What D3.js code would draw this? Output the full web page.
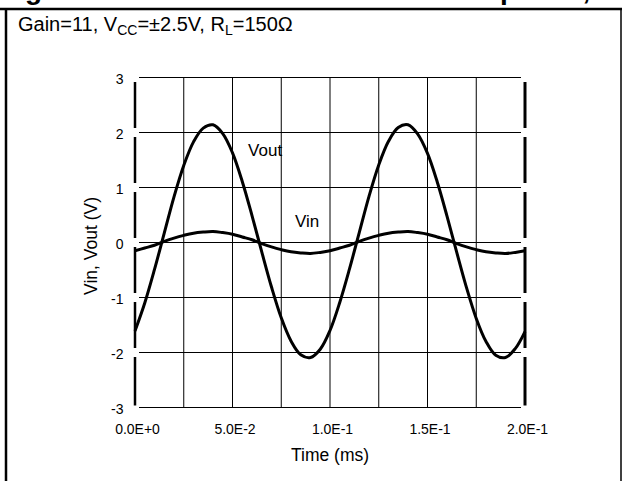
<!DOCTYPE html>
<html lang="en">
<head>
<meta charset="UTF-8">
<title>Vin, Vout vs Time</title>
<script src="https://cdn.jsdelivr.net/npm/d3@7"></script>
<style>
  body { margin: 0; background: #fff; }
  svg { display: block; font-family: 'Liberation Sans', Arial, sans-serif; }
</style>
</head>
<body>
<div id="chart"></div>
<script>
// time in ms, read every 0.005 ms off the scope trace
const time = [0.000, 0.005, 0.010, 0.015, 0.020, 0.025, 0.030, 0.035, 0.040, 0.045,
              0.050, 0.055, 0.060, 0.065, 0.070, 0.075, 0.080, 0.085, 0.090, 0.095,
              0.100, 0.105, 0.110, 0.115, 0.120, 0.125, 0.130, 0.135, 0.140, 0.145,
              0.150, 0.155, 0.160, 0.165, 0.170, 0.175, 0.180, 0.185, 0.190, 0.195, 0.200];
const vout = [-1.61, -1.10, -0.49, 0.17, 0.83, 1.40, 1.83, 2.08, 2.14, 1.98,
              1.63, 1.11, 0.49, -0.17, -0.81, -1.37, -1.79, -2.04, -2.09, -1.94,
              -1.60, -1.09, -0.48, 0.18, 0.84, 1.41, 1.84, 2.09, 2.14, 1.97,
              1.62, 1.10, 0.48, -0.18, -0.82, -1.38, -1.80, -2.05, -2.09, -1.93, -1.62];
const vin = [-0.15, -0.10, -0.05, 0.02, 0.08, 0.13, 0.17, 0.19, 0.20, 0.18,
             0.15, 0.10, 0.05, -0.02, -0.08, -0.13, -0.17, -0.19, -0.20, -0.18,
             -0.15, -0.10, -0.05, 0.02, 0.08, 0.13, 0.17, 0.19, 0.20, 0.18,
             0.15, 0.10, 0.05, -0.02, -0.08, -0.13, -0.17, -0.19, -0.20, -0.18, -0.15];

const yTicks = [-3, -2, -1, 0, 1, 2, 3];
const yTickLabels = ["-3", "-2", "-1", "0", "1", "2", "3"];
const xTicks = [0, 0.05, 0.1, 0.15, 0.2];
const xTickLabels = ["0.0E+0", "5.0E-2", "1.0E-1", "1.5E-1", "2.0E-1"];
const xGrid = [0.025, 0.05, 0.075, 0.1, 0.125, 0.15, 0.175];

const width = 622, height = 481;
const svg = d3.select("#chart").append("svg")
    .attr("width", width)
    .attr("height", height);

const x = d3.scaleLinear().domain([0, 0.2]).range([135, 525]);
const y = d3.scaleLinear().domain([-3, 3]).range([407.5, 77.5]);

// figure heading, cut off by the page top (only descenders show)
svg.append("text")
    .attr("x", 0).attr("y", -1)
    .attr("font-size", 28).attr("font-weight", "bold")
    .text("Figure 16. Vout and Vin Transient Response, High Gain");

// outer box
svg.append("line").attr("x1", 0).attr("x2", width).attr("y1", 9).attr("y2", 9)
    .attr("stroke", "#000").attr("stroke-width", 2.5);
svg.append("line").attr("x1", 6).attr("x2", 6).attr("y1", 9).attr("y2", height)
    .attr("stroke", "#000").attr("stroke-width", 2.5);
svg.append("line").attr("x1", 621).attr("x2", 621).attr("y1", 9).attr("y2", height)
    .attr("stroke", "#000").attr("stroke-width", 1.5);

// conditions line
const cond = svg.append("text").attr("x", 18).attr("y", 31).attr("font-size", 20);
cond.append("tspan").text("Gain=11, V");
cond.append("tspan").attr("font-size", 14).attr("dy", 4).text("CC");
cond.append("tspan").attr("dy", -4).text("=\u00b12.5V, R");
cond.append("tspan").attr("font-size", 14).attr("dy", 4).text("L");
cond.append("tspan").attr("dy", -4).text("=150\u03a9");

// grid
const grid = svg.append("g").attr("stroke", "#000").attr("stroke-width", 1);
grid.selectAll(".h").data(yTicks).join("line")
    .attr("x1", x(0) + 4).attr("x2", x(0.2) - 4)
    .attr("y1", d => y(d)).attr("y2", d => y(d));
grid.selectAll(".v").data(xGrid).join("line")
    .attr("x1", d => x(d)).attr("x2", d => x(d))
    .attr("y1", y(3)).attr("y2", y(-3));

// frame sides, broken at each grid line
const segs = d3.pairs(yTicks);
svg.append("g").selectAll("line").data(segs).join("line")
    .attr("x1", x(0)).attr("x2", x(0))
    .attr("y1", d => y(d[0]) - (d[0] === -3 ? 2 : 4.5)).attr("y2", d => y(d[1]) + 4.5)
    .attr("stroke", "#000").attr("stroke-width", 2.5);
svg.append("g").selectAll("line").data(segs).join("line")
    .attr("x1", x(0.2)).attr("x2", x(0.2))
    .attr("y1", d => y(d[0]) - (d[0] === -3 ? 2 : 4.5)).attr("y2", d => y(d[1]) + 4.5)
    .attr("stroke", "#000").attr("stroke-width", 3);

// axes (labels only)
const xAxis = svg.append("g")
    .attr("transform", `translate(2,${y(-3)})`)
    .call(d3.axisBottom(x).tickValues(xTicks).tickFormat((d, i) => xTickLabels[i])
        .tickSize(0).tickPadding(17));
const yAxis = svg.append("g")
    .attr("transform", `translate(${x(0)},1.5)`)
    .call(d3.axisLeft(y).tickValues(yTicks).tickFormat((d, i) => yTickLabels[i])
        .tickSize(0).tickPadding(11.5));
[xAxis, yAxis].forEach(g => {
    g.select(".domain").remove();
    g.selectAll("text").attr("font-size", 14).attr("font-family", null).attr("fill", "#000");
});

svg.append("text")
    .attr("x", (x(0) + x(0.2)) / 2).attr("y", 461)
    .attr("text-anchor", "middle").attr("font-size", 17.5)
    .text("Time (ms)");
svg.append("text")
    .attr("transform", "translate(97,246) rotate(-90)")
    .attr("text-anchor", "middle").attr("font-size", 17.5)
    .text("Vin, Vout (V)");

// traces
const line = d3.line()
    .x(d => x(d[0])).y(d => y(d[1]))
    .curve(d3.curveCatmullRom);
[vout, vin].forEach(vals => {
    svg.append("path")
        .datum(d3.zip(time, vals))
        .attr("fill", "none")
        .attr("stroke", "#000")
        .attr("stroke-width", 3)
        .attr("stroke-linejoin", "round")
        .attr("d", line);
});

svg.append("text").attr("x", x(0.058)).attr("y", y(1.58))
    .attr("font-size", 17).text("Vout");
svg.append("text").attr("x", x(0.082)).attr("y", y(0.29))
    .attr("font-size", 17).text("Vin");
</script>
</body>
</html>
